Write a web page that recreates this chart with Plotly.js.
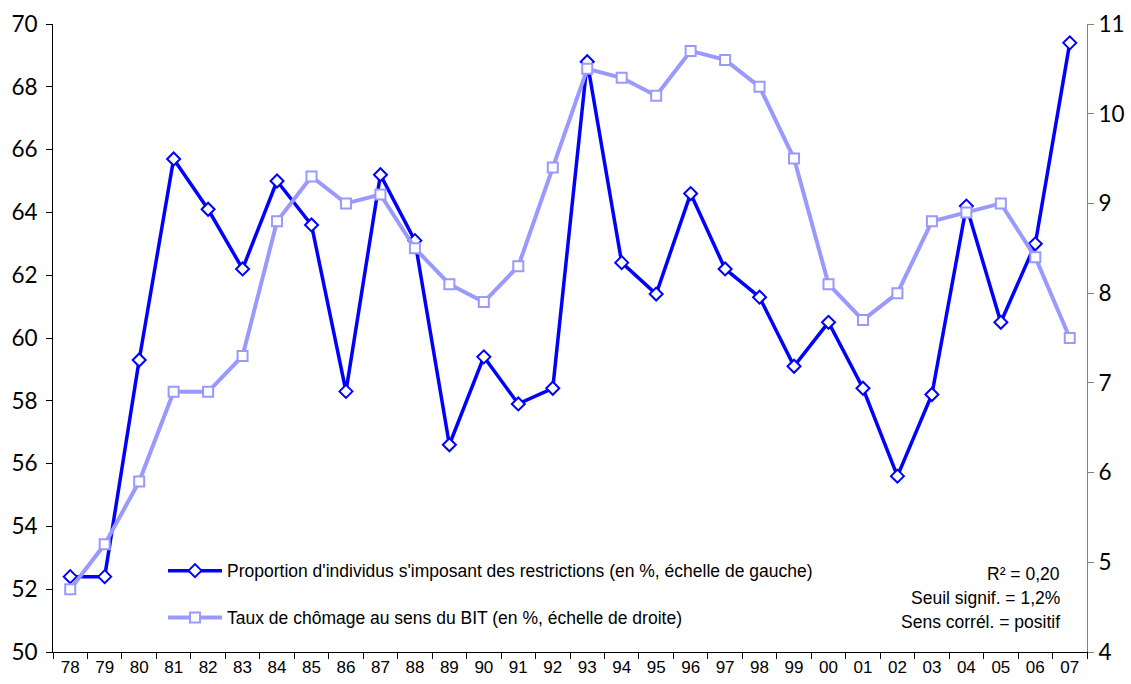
<!DOCTYPE html>
<html>
<head>
<meta charset="utf-8">
<script src="https://cdn.plot.ly/plotly-3.0.1.min.js"></script>
<style>html,body{margin:0;padding:0;background:#fff;}#chart{width:1131px;height:684px;}</style>
</head>
<body>
<div id="chart"></div>
<script>
const years = ["78","79","80","81","82","83","84","85","86","87","88","89","90","91","92","93","94","95","96","97","98","99","00","01","02","03","04","05","06","07"];
const restrictions = [52.4,52.4,59.3,65.7,64.1,62.2,65.0,63.6,58.3,65.2,63.1,56.6,59.4,57.9,58.4,68.8,62.4,61.4,64.6,62.2,61.3,59.1,60.5,58.4,55.6,58.2,64.2,60.5,63.0,69.4];
const chomage = [4.7,5.2,5.9,6.9,6.9,7.3,8.8,9.3,9.0,9.1,8.5,8.1,7.9,8.3,9.4,10.5,10.4,10.2,10.7,10.6,10.3,9.5,8.1,7.7,8.0,8.8,8.9,9.0,8.4,7.5];
const names = ["Proportion d'individus s'imposant des restrictions (en %, échelle de gauche)","Taux de chômage au sens du BIT (en %, échelle de droite)"];
const statsLines = ["R² = 0,20","Seuil signif. = 1,2%","Sens corrél. = positif"];

const dark = "#0000FF", light = "#9999FF";
const txtFont = "Liberation Sans, Arial, sans-serif";
const traces = [
  {x: years, y: restrictions, name: names[0], type: "scatter", mode: "lines+markers", yaxis: "y", legendgroup: "a",
   line: {color: dark, width: 3.5}, marker: {symbol: "diamond", size: 10, color: "#FFFFFF", line: {color: dark, width: 2}}},
  {x: years, y: chomage, name: names[1], type: "scatter", mode: "lines+markers", yaxis: "y2", legendgroup: "b",
   line: {color: light, width: 4}, marker: {symbol: "square", size: 10, color: "#FFFFFF", line: {color: light, width: 2}}}
];

const annotations = statsLines.map((t, i) => ({
  xref: "paper", yref: "paper", x: 0.9758, y: (652 - (574 + i * 24)) / 628,
  xanchor: "right", yanchor: "middle", showarrow: false, text: t,
  font: {family: txtFont, size: 17.5, color: "#000"}
}));

const layout = {
  width: 1131, height: 684,
  margin: {l: 53, r: 44, t: 24, b: 32, pad: 0},
  paper_bgcolor: "#FFFFFF", plot_bgcolor: "#FFFFFF",
  showlegend: true,
  legend: {x: 0.1064, y: 0.158, xanchor: "left", yanchor: "top", bgcolor: "rgba(0,0,0,0)",
           font: {family: txtFont, size: 17.5, color: "#000"},
           traceorder: "grouped", tracegroupgap: 21, itemwidth: 54},
  xaxis: {type: "category", range: [-0.5, 29.5], showgrid: false, zeroline: false,
          showline: true, linecolor: "#000", linewidth: 1,
          ticks: "outside", ticklen: 6, tickcolor: "#000", tickson: "boundaries",
          tickfont: {family: txtFont, size: 17, color: "#000"}},
  yaxis: {range: [50, 70], dtick: 2, tick0: 50, showgrid: false, zeroline: false,
          showline: true, linecolor: "#000", linewidth: 1,
          ticks: "outside", ticklen: 6, tickcolor: "#000", ticklabelstandoff: 4,
          tickfont: {family: "Lato, sans-serif", size: 22.5, color: "#000"}},
  yaxis2: {range: [4, 11], dtick: 1, tick0: 4, overlaying: "y", side: "right", anchor: "x",
           showgrid: false, zeroline: false, showline: true, linecolor: "#808080", linewidth: 1,
           ticks: "outside", ticklen: 6, tickcolor: "#808080",
           tickfont: {family: "Lato, sans-serif", size: 22.5, color: "#000"}},
  xaxis3: {overlaying: "x", anchor: "y", range: [-0.5, 29.5], tick0: -0.5, dtick: 1,
           ticks: "inside", ticklen: 6, tickcolor: "#000", showticklabels: false,
           showgrid: false, zeroline: false, showline: false},
  yaxis3: {overlaying: "y", anchor: "x", range: [50, 70], tick0: 50, dtick: 2,
           ticks: "inside", ticklen: 6, tickcolor: "#000", showticklabels: false,
           showgrid: false, zeroline: false, showline: false},
  yaxis4: {overlaying: "y", side: "right", anchor: "x", range: [4, 11], tick0: 4, dtick: 1,
           ticks: "inside", ticklen: 6, tickcolor: "#808080", showticklabels: false,
           showgrid: false, zeroline: false, showline: false},
  annotations: annotations
};

Plotly.newPlot("chart", traces, layout, {displayModeBar: false, staticPlot: true});
</script>
</body>
</html>
